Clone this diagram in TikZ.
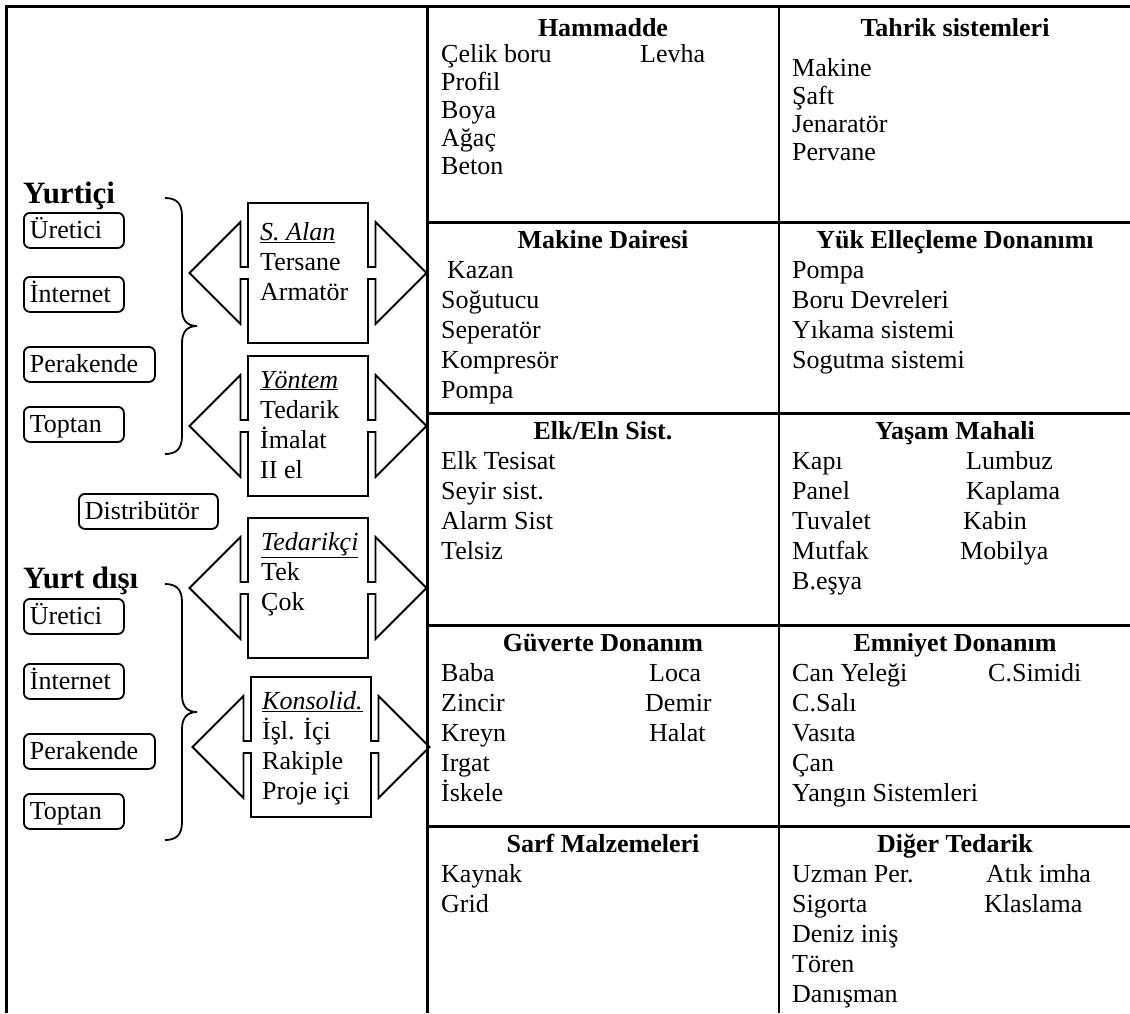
\documentclass[tikz,border=0pt]{standalone}
\usepackage{fontspec}
\setmainfont{Liberation Serif}
\newcommand\celllist[5]{%
  \foreach \itm [count=\i] in {#5} {\node[txt] (#1-\i) at (#2, #3+#4*\i-#4) {\itm};}}
\tikzset{
  calloutline/.style={draw, line width=1.8pt, line join=miter},
  bracepath/.style={draw, line width=1.8pt},
  lrcall/.pic={
    \draw[calloutline] (0,0) -- (120,0) -- (120,64) -- (127.5,64) -- (127.5,19) -- (178.5,70)
      -- (127.5,121) -- (127.5,76) -- (120,76) -- (120,140) -- (0,140) -- (0,76) -- (-7.5,76)
      -- (-7.5,121) -- (-58.5,70) -- (-7.5,19) -- (-7.5,64) -- (0,64) -- cycle;
  },
  rbrace/.pic={
    \draw[bracepath] (-32,-128) .. controls (-21,-128) and (-15,-123) .. (-15,-110) -- (-15,-17)
      .. controls (-15,-6) and (-10,0) .. (0,0) .. controls (-10,0) and (-15,6) .. (-15,17)
      -- (-15,110) .. controls (-15,123) and (-21,128) .. (-32,128);
  }
}
\begin{document}
\begin{tikzpicture}[x=1pt,y=-1pt,
  frame/.style={line width=3pt},
  midline/.style={line width=2pt},
  txt/.style={font=\fontsize{26}{30}\selectfont, inner sep=0pt, anchor=base west},
  hdr/.style={font=\fontsize{26}{30}\selectfont\bfseries, inner sep=0pt, anchor=base},
  big/.style={font=\fontsize{31}{36}\selectfont\bfseries, inner sep=0pt, anchor=base west},
  srcbox/.style={draw, line width=1.8pt, rounded corners=6pt, anchor=north west,
    font=\fontsize{26}{30}\selectfont, inner xsep=6pt, inner ysep=4.25pt,
    text height=21.5pt, text depth=5pt, align=left, text width=88pt},
]
\useasboundingbox (0,0) rectangle (1130,1013);
% frame and table grid
\draw[frame] (6,1013) -- (6,6) -- (1135,6);
\draw[frame] (427,6) -- (427,1013);
\draw[midline] (779,6) -- (779,1013);
\foreach \yy in {222,413,625,826} \draw[frame] (427,\yy) -- (1135,\yy);

% left panel: Yurtici
\node[big] (yi) at (23,203) {Yurtiçi};
\node[srcbox] (yi1) at (23,212) {Üretici};
\node[srcbox] (yi2) at (23,276) {İnternet};
\node[srcbox, text width=119pt] (yi3) at (23,346) {Perakende};
\node[srcbox] (yi4) at (23,406) {Toptan};
\pic (br1) at (197,326) {rbrace};
\node[srcbox, text width=127pt] (dist) at (78,493) {Distribütör};
% Yurt disi
\node[big] (yd) at (23,588) {Yurt dışı};
\node[srcbox] (yd1) at (23,598) {Üretici};
\node[srcbox] (yd2) at (23,663) {İnternet};
\node[srcbox, text width=119pt] (yd3) at (23,733) {Perakende};
\node[srcbox] (yd4) at (23,793) {Toptan};
\pic (br2) at (197,712) {rbrace};

% callout arrows
\pic (ca1) at (248,203) {lrcall};
\node[txt] (ca1t1) at (260,240) {\textit{\underline{S. Alan}}};
\node[txt] (ca1t2) at (260,270) {Tersane};
\node[txt] (ca1t3) at (260,300) {Armatör};
\pic (ca2) at (248,356) {lrcall};
\node[txt] (ca2t1) at (260,388) {\textit{\underline{Yöntem}}};
\node[txt] (ca2t2) at (260,418) {Tedarik};
\node[txt] (ca2t3) at (260,448) {İmalat};
\node[txt] (ca2t4) at (260,478) {II el};
\pic (ca3) at (248,518) {lrcall};
\node[txt] (ca3t1) at (261,550) {\textit{\underline{Tedarikçi}}};
\node[txt] (ca3t2) at (261,580) {Tek};
\node[txt] (ca3t3) at (261,610) {Çok};
\pic (ca4) at (251,677) {lrcall};
\node[txt] (ca4t1) at (262,709) {\textit{\underline{Konsolid.}}};
\node[txt] (ca4t2) at (262,739) {İşl. İçi};
\node[txt] (ca4t3) at (262,769) {Rakiple};
\node[txt] (ca4t4) at (262,799) {Proje içi};

% row 1
\node[hdr] (h11) at (603,36) {Hammadde};
\celllist{c11}{441}{62}{28}{Çelik boru,Profil,Boya,Ağaç,Beton}
\node[txt] (c11b) at (640,62) {Levha};
\node[hdr] (h12) at (955,36) {Tahrik sistemleri};
\celllist{c12}{792}{76}{28}{Makine,Şaft,Jenaratör,Pervane}
% row 2
\node[hdr] (h21) at (603,248) {Makine Dairesi};
\node[txt] (c21a) at (447,278) {Kazan};
\celllist{c21}{441}{308}{30}{Soğutucu,Seperatör,Kompresör,Pompa}
\node[hdr] (h22) at (955,248) {Yük Elleçleme Donanımı};
\celllist{c22}{792}{278}{30}{Pompa,Boru Devreleri,Yıkama sistemi,Sogutma sistemi}
% row 3
\node[hdr] (h31) at (603,439) {Elk/Eln Sist.};
\celllist{c31}{441}{469}{30}{Elk Tesisat,Seyir sist.,Alarm Sist,Telsiz}
\node[hdr] (h32) at (955,439) {Yaşam Mahali};
\celllist{c32}{792}{469}{30}{Kapı,Panel,Tuvalet,Mutfak,B.eşya}
\node[txt] (c32b) at (966,469) {Lumbuz};
\node[txt] (c32c) at (966,499) {Kaplama};
\node[txt] (c32d) at (963,529) {Kabin};
\node[txt] (c32e) at (960,559) {Mobilya};
% row 4
\node[hdr] (h41) at (603,651) {Güverte Donanım};
\celllist{c41}{441}{681}{30}{Baba,Zincir,Kreyn,Irgat,İskele}
\node[txt] (c41b) at (649,681) {Loca};
\node[txt] (c41c) at (645,711) {Demir};
\node[txt] (c41d) at (649,741) {Halat};
\node[hdr] (h42) at (955,651) {Emniyet Donanım};
\celllist{c42}{792}{681}{30}{Can Yeleği,C.Salı,Vasıta,Çan,Yangın Sistemleri}
\node[txt] (c42b) at (988,681) {C.Simidi};
% row 5
\node[hdr] (h51) at (603,852) {Sarf Malzemeleri};
\celllist{c51}{441}{882}{30}{Kaynak,Grid}
\node[hdr] (h52) at (955,852) {Diğer Tedarik};
\celllist{c52}{792}{882}{30}{Uzman Per.,Sigorta,Deniz iniş,Tören,Danışman}
\node[txt] (c52b) at (986,882) {Atık imha};
\node[txt] (c52c) at (984,912) {Klaslama};
\end{tikzpicture}
\end{document}
